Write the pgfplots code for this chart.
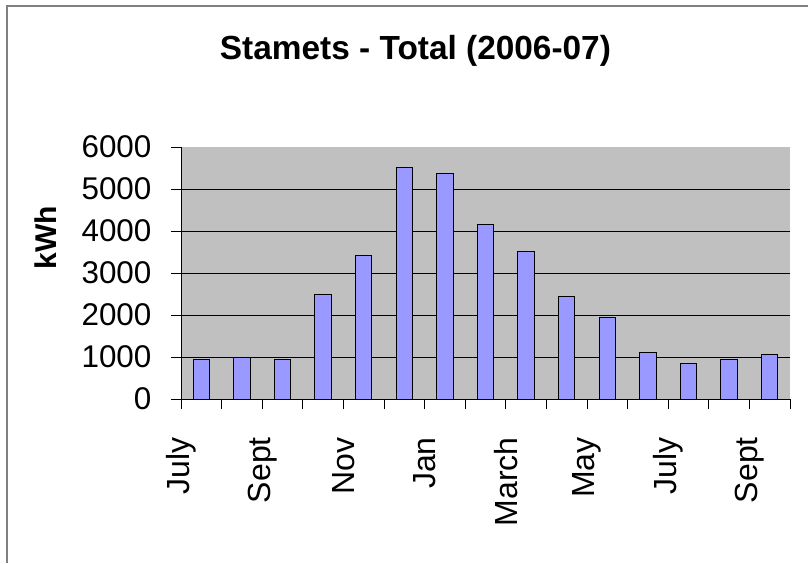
\documentclass[border=0pt]{standalone}
\usepackage{pgfplots}
\pgfplotsset{compat=1.18}
\usepackage{fontspec}
\setmainfont{Liberation Sans}
\definecolor{barblue}{HTML}{9999FF}
\definecolor{plotgray}{HTML}{C0C0C0}
\begin{document}
\begin{tikzpicture}
\path[use as bounding box] (0,0) rectangle (404pt,281.5pt);
\draw[gray, line width=0.75pt] (3.5pt,0) -- (3.5pt,278.5pt) -- (404pt,278.5pt);
\begin{axis}[
  at={(90.5pt,82pt)}, anchor=south west,
  scale only axis, width=304.5pt, height=126pt,
  xmin=-0.5, xmax=14.5, ymin=0, ymax=6000,
  axis background/.style={fill=plotgray},
  axis x line*=bottom, axis y line*=left,
  axis line style={black, line width=0.5pt},
  ytick={0,1000,2000,3000,4000,5000,6000},
  scaled y ticks=false,
  /pgf/number format/1000 sep={},
  /pgf/number format/assume math mode=true,
  extra y ticks={1000,2000,3000,4000,5000},
  extra y tick labels={},
  extra y tick style={grid=major, major tick length=0pt},
  major grid style={black, line width=0.5pt},
  xtick={-0.5,0.5,1.5,2.5,3.5,4.5,5.5,6.5,7.5,8.5,9.5,10.5,11.5,12.5,13.5,14.5},
  xticklabels={July,{},Sept,{},Nov,{},Jan,{},March,{},May,{},July,{},Sept,{},{}},
  tick align=outside, major tick length=5pt,
  tick style={black, line width=0.5pt},
  yticklabel style={font=\fontsize{15.7}{18}\selectfont, anchor=east, inner sep=0pt, xshift=-9.6pt},
  xticklabel style={font=\fontsize{16}{19}\selectfont, yshift=-13.9pt, rotate=90, anchor=east, inner sep=0pt},
  title={Stamets - Total (2006-07)},
  title style={at={(axis description cs:0.385,1)}, anchor=base, yshift=37.9pt, font=\bfseries\fontsize{16.7}{19}\selectfont},
  ylabel={kWh},
  ylabel style={at={(axis description cs:-0.222,0.64)}, anchor=center, font=\bfseries\fontsize{15}{18}\selectfont},
]
\addplot[ybar, bar width=0.4, fill=barblue, draw=black, line width=0.5pt] coordinates {
  (0,940) (1,1000) (2,940) (3,2500) (4,3410) (5,5510) (6,5370) (7,4160)
  (8,3520) (9,2430) (10,1940) (11,1110) (12,840) (13,940) (14,1050)
};
\end{axis}
\end{tikzpicture}
\end{document}
